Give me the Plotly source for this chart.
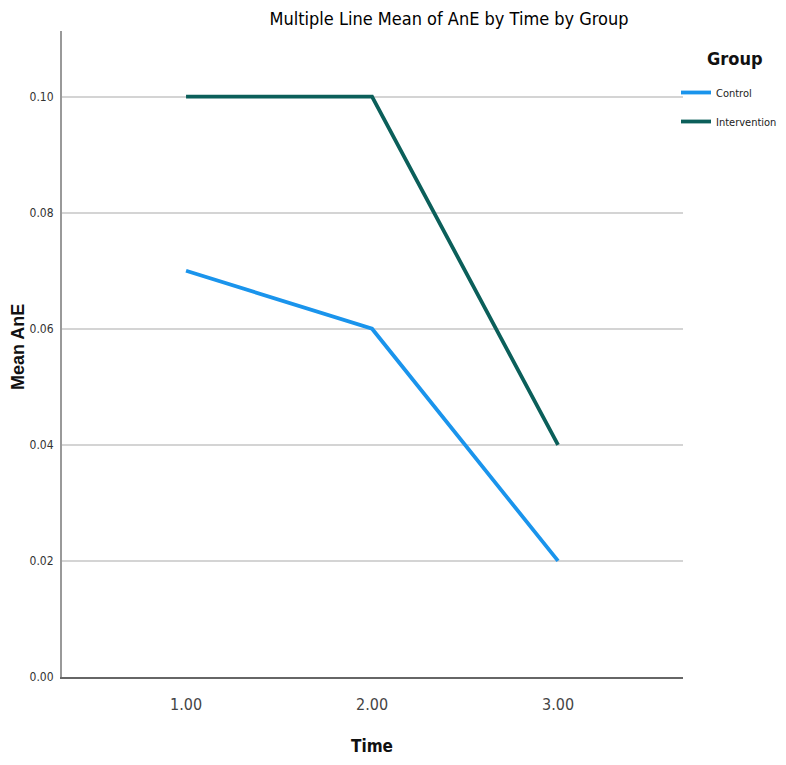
import plotly.graph_objects as go

time_points = [1.0, 2.0, 3.0]
tick_labels = ["1.00", "2.00", "3.00"]
control_mean = [0.07, 0.06, 0.02]
intervention_mean = [0.10, 0.10, 0.04]
y_ticks = [0.0, 0.02, 0.04, 0.06, 0.08, 0.10]
y_tick_labels = ["0.00", "0.02", "0.04", "0.06", "0.08", "0.10"]

NARROW = "DejaVu Sans Condensed, Liberation Sans Narrow, Arial Narrow, Liberation Sans, Arial, sans-serif"

W, H = 770, 749
L, T, R, B = 54, 23, 95, 80
PW, PH = W - L - R, H - T - B

fig = go.Figure()
fig.add_trace(go.Scatter(x=time_points, y=control_mean, mode="lines", name="Control",
                         legendgroup="c", line=dict(color="#1a94ec", width=3.8)))
fig.add_trace(go.Scatter(x=time_points, y=intervention_mean, mode="lines", name="Intervention",
                         legendgroup="i", line=dict(color="#0b5f5a", width=3.8)))

fig.update_layout(
    width=W, height=H,
    margin=dict(l=L, r=R, t=T, b=B, autoexpand=False),
    paper_bgcolor="white", plot_bgcolor="white",
    title=dict(text="Multiple Line Mean of AnE by Time by Group", x=441/W, xanchor="center",
               y=1 - 4/H, yanchor="top", pad=dict(t=0, b=0),
               font=dict(family=NARROW, size=18, color="#000")),
    xaxis=dict(range=[0.333, 3.672], tickvals=time_points, ticktext=tick_labels, automargin=False,
               showgrid=False, zeroline=False, showline=True, linecolor="#666", linewidth=2,
               ticks="", ticklabelstandoff=12, tickfont=dict(family=NARROW, size=16, color="#444")),
    yaxis=dict(range=[0, 0.1113], tickvals=y_ticks, ticktext=y_tick_labels, automargin=False,
               showgrid=True, gridcolor="#d4d4d4", gridwidth=2, zeroline=False,
               showline=True, linecolor="#999", linewidth=2, ticks="", ticklabelstandoff=4,
               tickfont=dict(family=NARROW, size=12, color="#333")),
    legend=dict(xref="container", yref="container", x=668/W, xanchor="left", y=1 - 70/H, yanchor="top",
                font=dict(family=NARROW, size=11, color="#222"),
                tracegroupgap=10, bgcolor="rgba(0,0,0,0)"),
    annotations=[
        dict(text="<b>Group</b>", xref="paper", yref="paper",
             x=(727 - L)/PW, y=(T + PH - 50)/PH, xanchor="center", yanchor="middle",
             showarrow=False, font=dict(family=NARROW, size=18, color="#111")),
        dict(text="<b>Time</b>", xref="paper", yref="paper",
             x=(364 - L)/PW, y=(T + PH - 738)/PH, xanchor="center", yanchor="middle",
             showarrow=False, font=dict(family=NARROW, size=17, color="#111")),
        dict(text="<b>Mean AnE</b>", xref="paper", yref="paper", textangle=-90,
             x=(-2 - L)/PW, y=(T + PH - 339)/PH, xanchor="left", yanchor="middle",
             showarrow=False, font=dict(family="Liberation Sans, Arial", size=18, color="#111")),
    ],
)

fig.write_html("out.html")
